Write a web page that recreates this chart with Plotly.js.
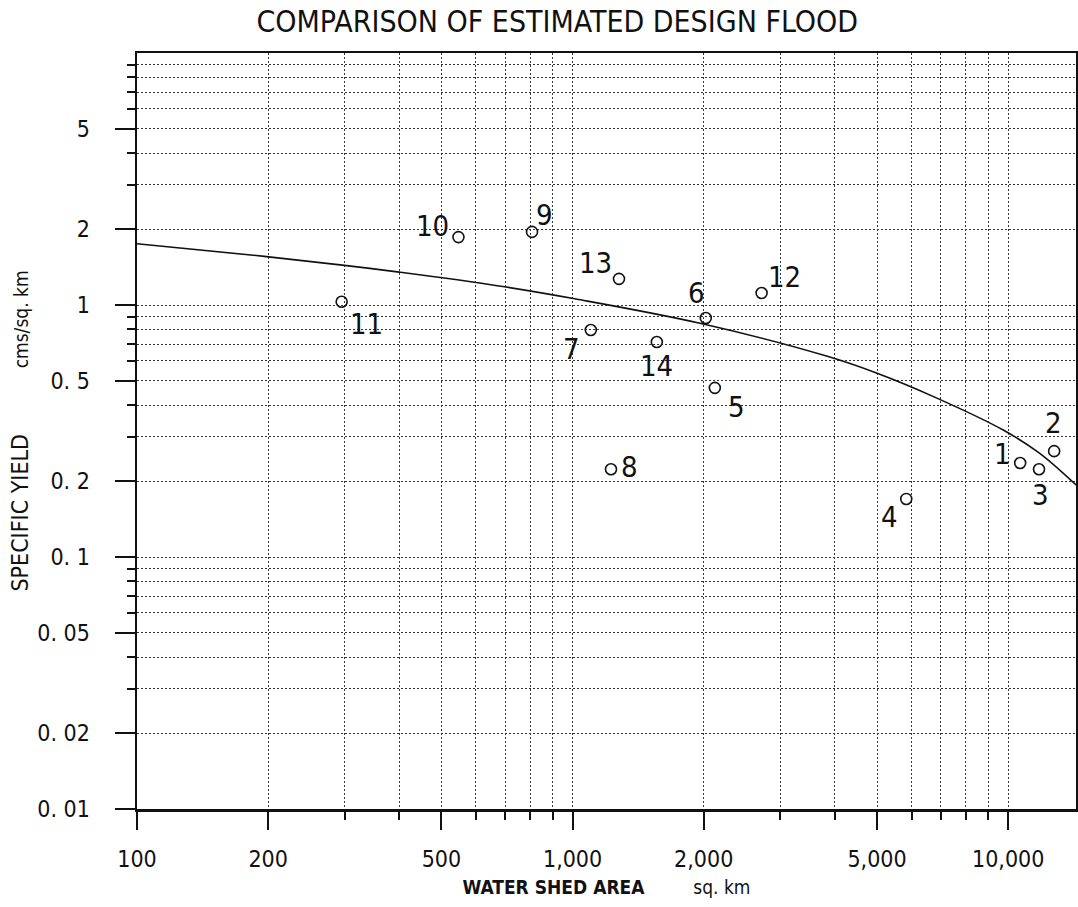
<!DOCTYPE html>
<html>
<head>
<meta charset="utf-8">
<script src="https://cdn.plot.ly/plotly-3.0.1.min.js"></script>
<style>html,body{margin:0;padding:0;background:#fff;}#chart{width:1078px;height:907px;}</style>
</head>
<body>
<div id="chart"></div>
<script>
// ---- data ----
const pointLabels = ['1','2','3','4','5','6','7','8','9','10','11','12','13','14'];
const watershedArea = [10655, 12750, 11770, 5834, 2121, 2022, 1101, 1225, 807, 547, 295, 2716, 1278, 1561];
const specificYield = [0.236, 0.263, 0.223, 0.170, 0.469, 0.888, 0.796, 0.223, 1.95, 1.86, 1.03, 1.116, 1.27, 0.713];

const curveArea  = [100, 196, 296, 400, 678, 1019, 1950, 3828, 4985, 6839, 9741, 11776, 14320];
const curveYield = [1.75, 1.56, 1.44, 1.35, 1.19, 1.056, 0.848, 0.627, 0.537, 0.428, 0.319, 0.259, 0.193];

const xTickVals = [100, 200, 500, 1000, 2000, 5000, 10000];
const xTickText = ['100', '200', '500', '1,000', '2,000', '5,000', '10,000'];
const xMinorVals = [300, 400, 600, 700, 800, 900, 3000, 4000, 6000, 7000, 8000, 9000];
const yTickVals = [0.01, 0.02, 0.05, 0.1, 0.2, 0.5, 1, 2, 5];
const yTickText = ['0. 01', '0. 02', '0. 05', '0. 1', '0. 2', '0. 5', '1', '2', '5'];
const yMinorVals = [0.03, 0.04, 0.06, 0.07, 0.08, 0.09, 0.3, 0.4, 0.6, 0.7, 0.8, 0.9, 3, 4, 6, 7, 8, 9];

const titleText = 'COMPARISON OF ESTIMATED DESIGN FLOOD';
const xTitleMain = 'WATER SHED AREA';
const xTitleUnit = 'sq. km';
const yTitleMain = 'SPECIFIC YIELD';
const yTitleUnit = 'cms/sq. km';

// ---- styling (label offsets in pixels, not data) ----
const labelShift = {
  '1': [-18, -9], '2': [-1, -28], '3': [1, 26], '4': [-17, 18], '5': [22, 19],
  '6': [-9, -25], '7': [-19, 19], '8': [19, -2], '9': [12, -17], '10': [-26, -11],
  '11': [25, 22], '12': [23, -16], '13': [-23, -16], '14': [0, 24]
};
const FONT = '"Liberation Sans Narrow", "DejaVu Sans Condensed", "Liberation Sans", sans-serif';
const nb = n => '\u00a0'.repeat(n);

const traces = [
  {
    x: curveArea, y: curveYield, type: 'scatter', mode: 'lines',
    line: {color: '#111', width: 1.6, shape: 'spline', smoothing: 1},
    hoverinfo: 'skip', showlegend: false
  },
  {
    x: watershedArea, y: specificYield, type: 'scatter', mode: 'markers',
    marker: {symbol: 'circle-open', size: 11, color: '#111', line: {width: 1.6, color: '#111'}},
    text: pointLabels, showlegend: false
  }
];

const annotations = pointLabels.map((lab, i) => ({
  x: Math.log10(watershedArea[i]), y: Math.log10(specificYield[i]),
  xref: 'x', yref: 'y', text: lab, showarrow: false,
  xshift: labelShift[lab][0], yshift: -labelShift[lab][1],
  font: {family: FONT, size: 29, color: '#111'}
}));

const gridCommon = {gridcolor: '#333', gridwidth: 1, griddash: '2px,2px'};

const layout = {
  width: 1078, height: 907,
  margin: {l: 137, r: 2, t: 53, b: 98},
  paper_bgcolor: '#fff', plot_bgcolor: '#fff',
  showlegend: false,
  title: {
    text: titleText, x: 0.517, xref: 'container', xanchor: 'center',
    y: 0.976, yref: 'container', yanchor: 'middle',
    font: {family: FONT, size: 30, color: '#111'}
  },
  xaxis: {
    type: 'log', range: [2, 4.1557],
    tickmode: 'array', tickvals: xTickVals, ticktext: xTickText,
    ticks: 'outside', ticklen: 18, tickwidth: 2, tickcolor: '#111',
    ticklabelstandoff: 10,
    showgrid: true, ...gridCommon,
    minor: {tickmode: 'array', tickvals: xMinorVals, ticks: 'outside', ticklen: 8, tickwidth: 2,
            tickcolor: '#111', showgrid: true, ...gridCommon},
    showline: true, linecolor: '#111', linewidth: 2.5, mirror: true,
    zeroline: false,
    tickfont: {family: FONT, size: 23, color: '#111'},
    title: {
      text: nb(13) + '<b>' + xTitleMain + '</b>' + nb(9) + '<span style="font-size:19px">' + xTitleUnit + '</span>',
      font: {family: FONT, size: 19, color: '#111'}, standoff: 10
    }
  },
  yaxis: {
    type: 'log', range: [-2, 1],
    tickmode: 'array', tickvals: yTickVals, ticktext: yTickText,
    ticks: 'outside', ticklen: 20, tickwidth: 2, tickcolor: '#111',
    ticklabelstandoff: 20,
    showgrid: true, ...gridCommon,
    minor: {tickmode: 'array', tickvals: yMinorVals, ticks: 'outside', ticklen: 8, tickwidth: 2,
            tickcolor: '#111', showgrid: true, ...gridCommon},
    showline: true, linecolor: '#111', linewidth: 2.5, mirror: true,
    zeroline: false,
    tickfont: {family: FONT, size: 23, color: '#111'},
    title: {
      text: yTitleMain + nb(10) + '<span style="font-size:19px">' + yTitleUnit + '</span>',
      font: {family: FONT, size: 23, color: '#111'}, standoff: 2
    }
  },
  annotations: annotations
};

Plotly.newPlot('chart', traces, layout, {displayModeBar: false, staticPlot: true});
</script>
</body>
</html>
